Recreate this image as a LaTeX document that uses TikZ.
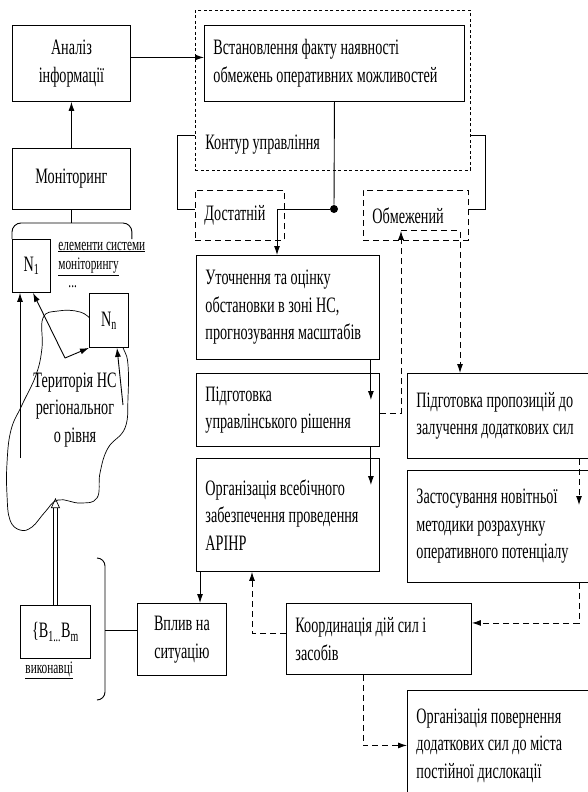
\documentclass[tikz,border=0pt]{standalone}
\usepackage{fontspec}
\setmainfont{Liberation Serif}[FakeStretch=0.645]
\usetikzlibrary{arrows.meta}

\begin{document}
\begin{tikzpicture}[x=1pt, y=-1pt, line width=0.9pt,
  every node/.style={font=\fontsize{22}{27.5}\selectfont},
  arr/.style={-{Latex[length=9pt,width=6pt]}},
  dsh/.style={dash pattern=on 6pt off 4pt}]
\tikzstyle{box}=[draw, fill=white, anchor=north west, inner xsep=9pt, inner ysep=0pt, align=flush left]
\tikzstyle{dbox}=[draw, dash pattern=on 6pt off 4pt, anchor=north west, inner xsep=9pt, inner ysep=0pt, minimum height=50pt, align=flush left]
\tikzstyle{small}=[font=\fontsize{17.5}{20}\selectfont, anchor=west, inner sep=0pt]
\useasboundingbox (0,0) rectangle (587,792);

% control loop frame
\node[draw, dash pattern=on 3pt off 2.5pt, anchor=north west, minimum width=275pt, minimum height=160pt] (kontur) at (195,10) {};
\node[anchor=west, inner sep=0pt] (kontlbl) at (205,145) {Контур управління};

% left column
\node[box, align=center, minimum width=118pt, minimum height=76pt] (analiz) at (12,25) {Аналіз\\інформації};
\node[box, align=center, minimum width=118pt, minimum height=61pt] (monit) at (12,148) {Моніторинг};

% territory
\draw[line width=0.7pt] plot[smooth cycle, tension=0.7] coordinates {(43,318) (58,311) (80,312) (95,322) (115,335) (124,350) (128,365) (128,397) (125,428) (108,448) (100,473) (97,498) (80,503) (58,500) (45,512) (32,527) (20,530) (10,520) (7,495) (7,463) (11,430) (22,405) (36,375) (42,348)};
\node[align=center, inner sep=0pt] (teryt) at (75,410) {Територія НС\\регіональног\\о рівня};

\node[box, inner xsep=0pt, align=center, minimum width=38pt, minimum height=53pt] (nA) at (12,239) {N\textsubscript{1}};
\node[box, inner xsep=0pt, align=center, minimum width=39pt, minimum height=54pt] (nB) at (89,293) {N\textsubscript{n}};
\node[small] (elem) at (58,247) {\underline{елементи системи}};
\node[small] (elem2) at (58,267) {\underline{моніторингу}};
\node[small] (dots) at (68,287) {...};

\coordinate (brL) at (12,223);
\draw[rounded corners=9pt] (nA.north west) -- (brL) -| ([xshift=3pt]nB.east |- nA.north);
\draw (monit.south) -- (monit.south |- brL);
\draw[arr] (monit.north) -- (analiz.south);

\coordinate (c1) at (20,458);
\coordinate (bend) at (65,358);
\coordinate (c3) at (123,405);
\coordinate (cloudB) at (57,498);
\draw[arr] (c1) -- (c1 |- nA.south);
\draw[arr] (bend) -- ([xshift=21pt]nA.south west);
\draw[arr] (bend) -- (nB.south west);
\draw[arr] (c3) -- ([xshift=28pt]nB.south west);

% executors
\node[box, inner xsep=0pt, align=center, minimum width=70pt, minimum height=53pt] (bbox) at (20,605) {\{B\textsubscript{1...}B\textsubscript{m}};
\node[small] (vykon) at (25,670) {\underline{виконавці}};
\draw[double, double distance=3pt, line width=0.7pt, -{Triangle[open,length=10pt,width=9pt]}] (bbox.north) -- (bbox.north |- cloudB);
\draw[rounded corners=8pt] (97,558) -- (105,558) -- (105,700) -- (97,700);
\coordinate (brM) at (105,630);
\node[box, align=center, minimum width=89pt, minimum height=72pt] (vplyv) at (137,603) {Вплив на\\ситуацію};
\draw (brM) -- (vplyv.west |- brM);

% middle column
\node[box, text width=242pt, minimum width=260pt, minimum height=76pt] (vst) at (204,25) {Встановлення факту наявності\\обмежень оперативних можливостей};
\node[dbox, text width=71pt, minimum width=89pt] (dost) at (195,190) {Достатній};
\node[dbox, text width=87pt, minimum width=105pt] (obm) at (363,190) {Обмежений};
\node[circle, fill, inner sep=0pt, minimum size=8pt] (dot) at (334,209) {};

\node[box, text width=165pt, minimum width=183pt, minimum height=104pt] (utoch) at (196,255) {Уточнення та оцінку\\обстановки в зоні НС,\\прогнозування масштабів};
\node[box, text width=165pt, minimum width=183pt, minimum height=73pt] (pidg) at (196,373) {Підготовка\\управлінського рішення};
\node[box, text width=165pt, minimum width=183pt, minimum height=113pt] (org) at (196,458) {Організація всебічного\\забезпечення проведення\\АРІНР};
\node[box, text width=167pt, minimum width=185pt, minimum height=71pt] (koord) at (286,603) {Координація дій сил і\\засобів};

% right column
\node[box, text width=167pt, minimum width=185pt, minimum height=85pt] (propoz) at (407,373) {Підготовка пропозицій до\\залучення додаткових сил};
\node[box, text width=167pt, minimum width=185pt, minimum height=112pt] (zast) at (407,470) {Застосування новітньої\\методики розрахунку\\оперативного потенціалу};
\node[box, text width=167pt, minimum width=185pt, minimum height=110pt] (povern) at (407,690) {Організація повернення\\додаткових сил до міста\\постійної дислокації};

% connectors
\draw[arr] ([yshift=6pt]analiz.east) -- ([yshift=6pt]vst.west);
\draw (vst.south) -- (dot);
\draw[arr] (dot) -| ([xshift=81pt]utoch.north west);
\draw ([yshift=35pt]kontur.south west) -- ++(-18,0) |- ([yshift=6pt]dost.west);
\draw ([yshift=35pt]kontur.south east) -- ++(15,0) |- ([yshift=6pt]obm.east);
\draw[arr] ([xshift=-9pt]utoch.south east) -- ([xshift=-9pt,yshift=-27pt]pidg.north east);
\draw[arr] ([xshift=-9pt]pidg.south east) -- ([xshift=-9pt,yshift=-27pt]org.north east);
\draw[arr] ([xshift=4pt]org.south west) -- ([xshift=4pt]org.south west |- vplyv.north);
\draw[dsh, arr] ([yshift=-3pt]pidg.east) -| ([xshift=38pt,yshift=10pt]obm.south west);
\draw[dsh, arr] ([xshift=38pt,yshift=10pt]obm.south west) -| ([xshift=53pt]propoz.north west);
\draw[dsh, arr] ([xshift=172pt]propoz.south west) -- ([xshift=172pt,yshift=-35pt]zast.north west);
\draw[dsh, arr] ([xshift=172pt]zast.south west) |- ([yshift=16pt]koord.east);
\draw[dsh, arr] ([yshift=6pt]koord.west) -| ([xshift=56pt]org.south west);
\draw[dsh, arr] ([xshift=77pt]koord.south west) |- (povern.west);
\end{tikzpicture}
\end{document}
